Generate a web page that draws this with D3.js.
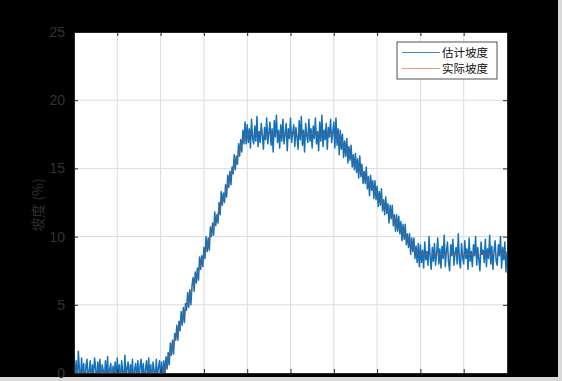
<!DOCTYPE html>
<html>
<head>
<meta charset="utf-8">
<script src="https://cdn.jsdelivr.net/npm/d3@7"></script>
<style>
  html, body { margin: 0; padding: 0; background: #d9d9d9; }
  svg { display: block; }
</style>
</head>
<body>
<script>
// sample step of the estimated series (x runs 0..100)
const step = 0.25;

// estimated slope, one value every 0.25 on x
const estimated = [
  1.2, -0.6, 0.9, -1.1, 1.6, 0.3, -0.8, 1.1, -0.4, 0.7, -1.2, 0.5, 1.0, -0.7, 0.2, 0.9, -1.0, 0.6, -0.3, 1.1,
  0.4, -0.9, 0.8, -0.2, 1.0, -1.1, 0.6, 0.2, -0.7, 0.9, -0.5, 1.2, -0.8, 0.3, 0.7, -1.0, 0.5, -0.3, 0.8, -0.6,
  1.1, -0.4, 0.6, -1.2, 0.9, 0.1, -0.7, 1.3, -0.5, 0.4, 0.8, -0.9, 0.6, -0.2, 1.0, -1.1, 0.3, 0.7, -0.6, 0.9,
  -0.8, 0.5, 1.0, -0.4, 0.7, -1.0, 0.3, 0.9, -0.6, 1.1, -0.3, 0.6, -0.9, 0.8, 0.2, -0.7, 1.0, -0.5, 0.4, 0.9,
  -0.4, 0.8, -0.6, 0.9, -0.3, 1.2, 0.3, 1.5, 0.6, 2.2, 1.3, 2.4, 1.4, 2.9, 2.4, 3.5, 2.4, 3.8, 3.1, 4.5,
  3.5, 4.8, 3.7, 5.1, 4.6, 5.9, 4.8, 6.1, 5.0, 6.4, 7.0, 6.0, 7.4, 6.6, 7.7, 6.8, 8.5, 7.6, 8.6, 7.8,
  9.2, 8.4, 10.0, 8.9, 9.9, 9.0, 10.7, 10.0, 11.0, 10.1, 11.8, 10.8, 11.6, 11.0, 12.5, 11.6, 13.3, 12.3, 13.2, 12.5,
  13.8, 12.9, 14.5, 13.6, 14.8, 13.8, 15.1, 14.6, 16.0, 14.9, 15.9, 15.3, 16.8, 15.9, 17.1, 16.2, 17.8, 16.8, 18.4, 16.8,
  18.2, 16.9, 17.9, 16.5, 18.6, 17.2, 16.8, 18.1, 17.0, 18.8, 16.6, 17.7, 16.9, 18.3, 17.4, 16.4, 18.0, 17.1, 18.7, 16.8,
  17.6, 18.4, 16.7, 17.9, 16.2, 18.5, 17.3, 18.9, 16.9, 17.8, 16.5, 18.2, 17.0, 18.6, 16.8, 17.5, 18.3, 16.3, 17.9, 17.2,
  18.7, 16.9, 17.6, 18.2, 16.6, 18.0, 17.3, 16.4, 18.5, 17.1, 18.8, 16.7, 17.8, 16.2, 18.3, 17.4, 16.9, 18.6, 17.0, 17.9,
  16.5, 18.1, 17.2, 18.7, 16.8, 17.7, 16.3, 18.4, 17.0, 18.9, 16.6, 17.8, 17.1, 18.3, 16.4, 18.0, 17.3, 18.6, 16.9, 17.6,
  18.4, 16.5, 18.7, 16.7, 17.9, 16.0, 17.8, 16.4, 17.5, 15.8, 17.0, 15.9, 17.2, 15.4, 16.6, 15.6, 16.7, 15.1, 16.0, 14.9,
  16.1, 14.7, 15.7, 14.3, 15.9, 14.4, 15.3, 13.9, 14.8, 13.9, 15.1, 13.5, 14.4, 13.0, 14.5, 13.4, 14.1, 12.8, 14.1, 12.7,
  13.7, 12.2, 13.3, 12.3, 13.5, 11.9, 12.7, 11.6, 12.9, 11.7, 12.4, 11.0, 12.3, 11.3, 12.3, 10.8, 11.6, 10.4, 11.6, 10.4,
  11.5, 10.2, 11.1, 9.7, 10.9, 9.8, 10.9, 9.4, 10.2, 9.2, 10.2, 8.7, 9.9, 8.9, 9.9, 8.4, 9.3, 8.1, 9.5, 7.8,
  9.4, 8.1, 9.0, 7.7, 9.6, 8.3, 8.9, 7.9, 10.0, 8.5, 7.6, 9.2, 8.2, 9.5, 7.9, 8.8, 9.9, 8.0, 9.1, 7.7,
  9.3, 8.4, 10.1, 7.8, 8.9, 9.6, 8.1, 7.5, 9.4, 8.6, 9.8, 7.9, 8.8, 9.2, 8.0, 10.2, 8.3, 7.7, 9.5, 8.5,
  8.0, 9.7, 8.4, 9.1, 7.6, 9.9, 8.2, 8.9, 7.8, 9.4, 8.6, 10.0, 7.9, 9.2, 8.3, 7.5, 9.6, 8.7, 9.0, 8.1,
  9.8, 7.8, 9.1, 8.4, 10.1, 8.0, 9.3, 7.6, 8.9, 9.7, 8.2, 7.9, 9.4, 8.6, 10.0, 7.7, 9.2, 8.3, 9.6, 7.4,
  8.9
];

// actual slope, break points [x, value]
const actualX = [0, 20.75, 39.5, 60.5, 79.5, 100];
const actualY = [0, 0, 17.5, 17.5, 8.7, 8.7];

const xTicks = [0, 10, 20, 30, 40, 50, 60, 70, 80, 90, 100];
const yTicks = [0, 5, 10, 15, 20, 25];
const legendNames = ["估计坡度", "实际坡度"];
const colors = ["#1570b8", "#d95319"];

const W = 562, H = 381;
const margin = {top: 32, right: 55, bottom: 8, left: 74};
const width = 507 - margin.left, height = 373 - margin.top;

const svg = d3.select("body").append("svg")
    .attr("width", W)
    .attr("height", H);

// black page around the figure
svg.append("rect")
    .attr("width", 558).attr("height", 377)
    .attr("fill", "#000");

const g = svg.append("g")
    .attr("transform", `translate(${margin.left},${margin.top})`);

const x = d3.scaleLinear().domain([0, 100]).range([0, width]);
const y = d3.scaleLinear().domain([0, 25]).range([height, 0]);

g.append("rect")
    .attr("width", width).attr("height", height)
    .attr("fill", "#fff");

// grid
g.append("g").selectAll("line")
  .data(xTicks.slice(1, -1))
  .join("line")
    .attr("x1", d => x(d)).attr("x2", d => x(d))
    .attr("y1", 0).attr("y2", height)
    .attr("stroke", "#dcdcdc").attr("stroke-width", 1);
g.append("g").selectAll("line")
  .data(yTicks.slice(1, -1))
  .join("line")
    .attr("y1", d => y(d)).attr("y2", d => y(d))
    .attr("x1", 0).attr("x2", width)
    .attr("stroke", "#dcdcdc").attr("stroke-width", 1);

g.append("clipPath").attr("id", "clip")
  .append("rect").attr("width", width).attr("height", height);

const line = d3.line()
    .x(d => x(d[0]))
    .y(d => y(d[1]));

const estPts = estimated.map((v, i) => [i * step, v]);
const actPts = actualX.map((v, i) => [v, actualY[i]]);

g.append("path")
    .datum(estPts)
    .attr("clip-path", "url(#clip)")
    .attr("fill", "none")
    .attr("stroke", colors[0])
    .attr("stroke-width", 1.5)
    .attr("stroke-linejoin", "round")
    .attr("d", line);

g.append("path")
    .datum(actPts)
    .attr("clip-path", "url(#clip)")
    .attr("fill", "none")
    .attr("stroke", colors[1])
    .attr("stroke-opacity", 0.4)
    .attr("stroke-width", 1.3)
    .attr("d", line);

// axes: ticks inward on all four sides, MATLAB style
const tickCol = "#262626";
const axB = g.append("g").attr("transform", `translate(0,${height})`)
    .call(d3.axisBottom(x).tickValues(xTicks).tickSize(-4).tickFormat(""));
const axT = g.append("g")
    .call(d3.axisTop(x).tickValues(xTicks).tickSize(-4).tickFormat(""));
const axL = g.append("g")
    .call(d3.axisLeft(y).tickValues(yTicks).tickSize(-4).tickPadding(9));
const axR = g.append("g").attr("transform", `translate(${width},0)`)
    .call(d3.axisRight(y).tickValues(yTicks).tickSize(-4).tickFormat(""));

[axB, axT, axL, axR].forEach(a => {
  a.select(".domain").attr("stroke", tickCol);
  a.selectAll(".tick line").attr("stroke", tickCol);
});
axL.selectAll("text")
    .attr("fill", "#333")
    .style("font-family", "'Liberation Sans', Arial, sans-serif")
    .style("font-size", "14px");

svg.append("text")
    .attr("transform", "translate(43,205) rotate(-90)")
    .attr("text-anchor", "middle")
    .attr("fill", "#2e2e2e")
    .style("font-family", "'Noto Sans CJK SC', sans-serif")
    .style("font-size", "14px")
    .text("坡度 (%)");

// legend
const lg = svg.append("g").attr("transform", "translate(397,42)");
lg.append("rect")
    .attr("width", 100).attr("height", 37)
    .attr("fill", "#fff")
    .attr("stroke", "#262626").attr("stroke-width", 0.8);
legendNames.forEach((name, i) => {
  const yy = 10.5 + i * 16;
  lg.append("line")
      .attr("x1", 5).attr("x2", 43)
      .attr("y1", yy).attr("y2", yy)
      .attr("stroke", colors[i]).attr("stroke-width", 1)
      .attr("stroke-opacity", i === 0 ? 0.85 : 0.6);
  lg.append("text")
      .attr("x", 45).attr("y", yy + 4.2)
      .attr("fill", "#111")
      .style("font-family", "'Noto Sans CJK SC', sans-serif")
      .style("font-size", "11.5px")
      .text(name);
});
</script>
</body>
</html>
